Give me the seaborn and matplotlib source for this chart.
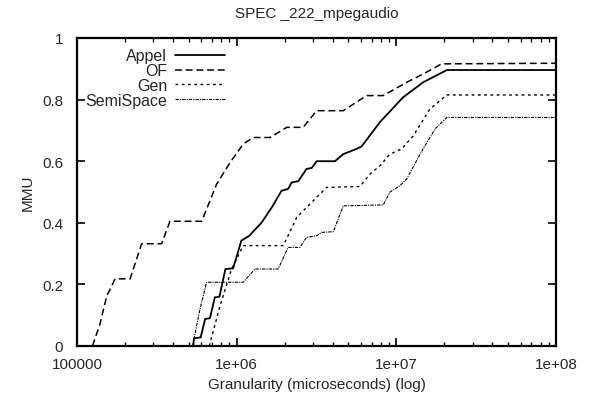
import numpy as np
import pandas as pd
import matplotlib
matplotlib.use("Agg")
import matplotlib.pyplot as plt
import seaborn as sns
from matplotlib.ticker import FixedLocator, FixedFormatter, LogLocator, NullFormatter

# ---- data ----
of_x = [1.25e5, 1.39e5, 1.54e5, 1.6e5, 1.73e5, 2.15e5, 2.54e5, 3.39e5, 3.82e5, 6.04e5,
        7.5e5, 9.1e5, 1.1e6, 1.27e6, 1.62e6, 2.06e6, 2.61e6, 3.17e6, 4.65e6, 6.52e6,
        8.28e6, 1.16e7, 1.47e7, 1.92e7, 1e8]
of_y = [0.0, 0.07, 0.165, 0.18, 0.218, 0.218, 0.332, 0.332, 0.405, 0.405,
        0.526, 0.596, 0.656, 0.677, 0.677, 0.71, 0.71, 0.764, 0.764, 0.813,
        0.813, 0.856, 0.883, 0.916, 0.918]

appel_x = [5.35e5, 5.4e5, 5.95e5, 6.35e5, 6.8e5, 7.3e5, 7.8e5, 8.5e5, 9.5e5, 1.07e6,
           1.2e6, 1.43e6, 1.66e6, 1.91e6, 2.1e6, 2.21e6, 2.43e6, 2.74e6, 2.95e6, 3.17e6,
           4.13e6, 4.65e6, 5.64e6, 6.06e6, 7.9e6, 1.1e7, 1.47e7, 2.07e7, 1e8]
appel_y = [0.0, 0.025, 0.028, 0.088, 0.09, 0.158, 0.16, 0.25, 0.252, 0.342,
           0.358, 0.40, 0.45, 0.504, 0.51, 0.531, 0.535, 0.575, 0.578, 0.60,
           0.60, 0.623, 0.64, 0.648, 0.727, 0.807, 0.856, 0.896, 0.896]

gen_x = [6.74e5, 7.86e5, 9.3e5, 1.1e6, 1.96e6, 2.38e6, 2.88e6, 3.66e6, 5.92e6, 6.84e6,
         7.89e6, 9.12e6, 1.08e7, 1.28e7, 1.62e7, 2.07e7, 1e8]
gen_y = [0.0, 0.13, 0.25, 0.326, 0.326, 0.418, 0.461, 0.515, 0.518, 0.558,
         0.585, 0.623, 0.64, 0.683, 0.769, 0.815, 0.815]

semi_x = [5.3e5, 5.89e5, 6.49e5, 1.1e6, 1.3e6, 1.82e6, 2.1e6, 2.49e6, 2.74e6, 3.17e6,
          3.41e6, 4.03e6, 4.65e6, 8.28e6, 9.12e6, 1.05e7, 1.16e7, 1.47e7, 1.75e7, 2.07e7, 1e8]
semi_y = [0.0, 0.12, 0.207, 0.207, 0.25, 0.25, 0.32, 0.32, 0.353, 0.358,
          0.369, 0.371, 0.455, 0.458, 0.50, 0.52, 0.542, 0.64, 0.705, 0.742, 0.742]

series_names = ["Appel", "OF", "Gen", "SemiSpace"]
x_ticks = [1e5, 1e6, 1e7, 1e8]
x_tick_labels = ["100000", "1e+06", "1e+07", "1e+08"]
y_ticks = [0, 0.2, 0.4, 0.6, 0.8, 1.0]
y_tick_labels = ["0", "0.2", "0.4", "0.6", "0.8", "1"]

sns.set_style("ticks")
plt.rcParams["font.family"] = ["Liberation Sans", "DejaVu Sans"]
plt.rcParams["font.size"] = 11

fig = plt.figure(figsize=(5.9, 4.02), dpi=100)
ax = fig.add_axes([77 / 590, 1 - 347 / 402, 479 / 590, 308 / 402])

data = {
    "Appel": (appel_x, appel_y),
    "OF": (of_x, of_y),
    "Gen": (gen_x, gen_y),
    "SemiSpace": (semi_x, semi_y),
}
styles = {
    "Appel": dict(linestyle="-", linewidth=1.3),
    "OF": dict(linestyle=(0, (4.5, 2.5)), linewidth=1.1),
    "Gen": dict(linestyle=(0, (2, 2.5)), linewidth=1.0),
    "SemiSpace": dict(linestyle=(0, (3, 1, 1, 1)), linewidth=0.8),
}
for name in series_names:
    xs, ys = data[name]
    df = pd.DataFrame({"x": xs, "y": ys})
    sns.lineplot(data=df, x="x", y="y", ax=ax, color="black", label=name,
                 estimator=None, sort=False, **styles[name])

ax.set_xscale("log")
ax.set_xlim(1e5, 1e8)
ax.set_ylim(0, 1)
ax.xaxis.set_major_locator(FixedLocator(x_ticks))
ax.xaxis.set_major_formatter(FixedFormatter(x_tick_labels))
ax.xaxis.set_minor_locator(LogLocator(base=10, subs=np.arange(2, 10)))
ax.xaxis.set_minor_formatter(NullFormatter())
ax.yaxis.set_major_locator(FixedLocator(y_ticks))
ax.yaxis.set_major_formatter(FixedFormatter(y_tick_labels))
ax.tick_params(which="both", direction="in", top=True, right=True, color="black")
ax.tick_params(which="major", length=6, width=1.2, labelsize=11)
ax.tick_params(axis="x", which="major", pad=8)
ax.tick_params(axis="y", which="major", pad=10)
ax.tick_params(which="minor", length=3, width=1.0)
for s in ax.spines.values():
    s.set_linewidth(1.6)
    s.set_color("black")

ax.set_xlabel("Granularity (microseconds) (log)", fontsize=11, labelpad=4)
ax.set_ylabel("MMU", fontsize=11, labelpad=5)
ax.set_title("SPEC _222_mpegaudio", fontsize=11, pad=15)

leg = ax.legend(loc="upper left", bbox_to_anchor=(0.017, 0.966), frameon=False,
                markerfirst=False, handlelength=3.1, handletextpad=0.5,
                labelspacing=-0.02, borderpad=0, borderaxespad=0, fontsize=11.5)

fig.savefig("out.png", dpi=100)
